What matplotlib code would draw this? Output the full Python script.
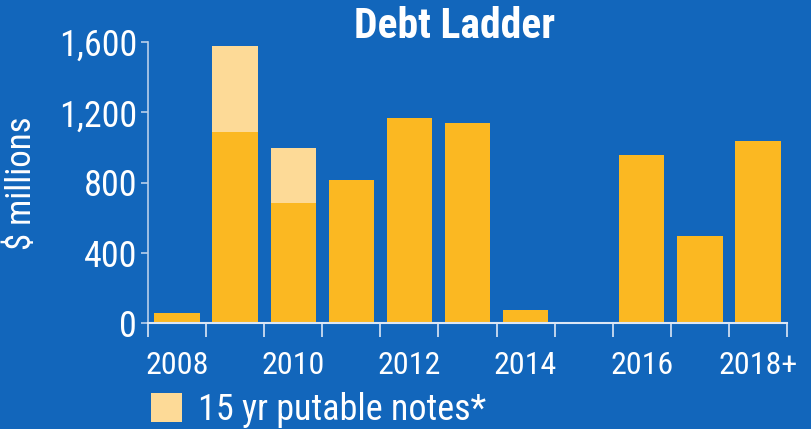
import matplotlib
matplotlib.use("Agg")
import matplotlib.pyplot as plt
from matplotlib import font_manager
from matplotlib.patches import Patch
import numpy as np

categories = ["2008", "2009", "2010", "2011", "2012", "2013", "2014", "2015", "2016", "2017", "2018+"]
regular_debt = [58, 1090, 685, 812, 1165, 1140, 75, 0, 957, 495, 1035]
putable_notes = [0, 490, 310, 0, 0, 0, 0, 0, 0, 0, 0]
shown_labels = ["2008", "2010", "2012", "2014", "2016", "2018+"]
yticks = [0, 400, 800, 1200, 1600]

avail = {f.name for f in font_manager.fontManager.ttflist}
fam = next((f for f in ["Liberation Sans Narrow", "Roboto Condensed", "Open Sans", "Lato", "DejaVu Sans"] if f in avail), "DejaVu Sans")
plt.rcParams["font.family"] = [fam, "DejaVu Sans"]

BG = "#1266BB"
GOLD = "#FBB822"
LIGHT = "#FDDA97"
SPINE = "#B8CFEA"

fig = plt.figure(figsize=(8.11, 4.29), dpi=100, facecolor=BG)
ax = fig.add_axes([148/811, 1-323/429, (787-148)/811, (323-42)/429])
ax.set_facecolor(BG)

x = np.arange(len(categories))
ax.bar(x, regular_debt, width=0.78, color=GOLD, zorder=2)
ax.bar(x, putable_notes, width=0.78, bottom=regular_debt, color=LIGHT, zorder=2)

ax.set_xlim(-0.5, len(categories) - 0.5)
ax.set_ylim(0, 1600)

for s in ["top", "right"]:
    ax.spines[s].set_visible(False)
ax.spines["left"].set_color(SPINE)
ax.spines["bottom"].set_color("#DCE7F5")
ax.spines["left"].set_linewidth(1.2)
ax.spines["bottom"].set_linewidth(1.5)

ax.set_yticks(yticks)
ax.set_yticklabels([f"{v:,}" for v in yticks])
ax.tick_params(axis="y", colors=SPINE, labelcolor="white", labelsize=26, length=5, width=1.2, pad=3)

ax.set_xticks(np.arange(-0.5, len(categories)), labels=[""] * (len(categories) + 1))
ax.tick_params(axis="x", which="major", colors="#DCE7F5", length=10, width=1.2)
label_pos = [categories.index(l) for l in shown_labels]
ax.set_xticks(label_pos, labels=shown_labels, minor=True)
ax.tick_params(axis="x", which="minor", length=0, labelcolor="white", labelsize=23, pad=20)

fig.text(22/811, 1-183/429, "$ millions", color="white", fontsize=25, rotation=90,
         ha="center", va="center")

fig.text(455/811, 1-27/429, "Debt Ladder", color="white", fontsize=30, fontweight="bold",
         ha="center", va="center")

leg = fig.legend(handles=[Patch(facecolor=LIGHT, edgecolor="none", label="15 yr putable notes*")],
                 loc="center left", bbox_to_anchor=(133/811, 1-410/429), frameon=False,
                 fontsize=26, labelcolor="white", handlelength=0.85, handleheight=0.85,
                 handletextpad=0.45, borderpad=0)

fig.savefig("out.png", dpi=100, facecolor=BG)
